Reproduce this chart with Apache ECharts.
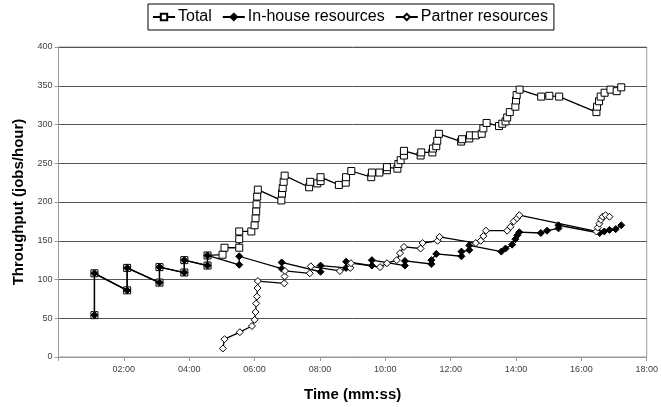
<!DOCTYPE html>
<html>
<head>
<meta charset="utf-8">
<script src="https://cdn.jsdelivr.net/npm/echarts@6/dist/echarts.min.js"></script>
<style>
  html, body { margin: 0; padding: 0; background: #fff; }
  #chart { width: 661px; height: 407px; }
</style>
</head>
<body>
<div id="chart"></div>
<script>
// time in minutes, throughput in jobs/hour
const totalTime = [1.1, 1.1, 2.1, 2.1, 3.09, 3.09, 3.85, 3.85, 4.56, 4.56, 5.02, 5.08, 5.53, 5.53, 5.53, 5.9, 6.0, 6.03, 6.05, 6.06, 6.08, 6.1,
  6.82, 6.84, 6.86, 6.89, 6.92, 7.67, 7.7, 7.92, 8.02, 8.02, 8.58, 8.79, 8.8, 8.96, 9.57, 9.59, 9.82, 10.05, 10.05, 10.37, 10.4, 10.47,
  10.57, 10.57, 11.08, 11.1, 11.44, 11.46, 11.56, 11.59, 11.64, 12.32, 12.35, 12.57, 12.59, 12.77, 12.95, 13.0, 13.1, 13.48, 13.58,
  13.68, 13.73, 13.81, 13.98, 14.0, 14.02, 14.11, 14.77, 15.02, 15.32, 16.46, 16.48, 16.54, 16.59, 16.71, 16.89, 17.08, 17.22];
const totalValue = [54, 108, 86, 115, 96, 116, 109, 125, 118, 131, 132, 141, 141, 152, 162, 162, 170, 179, 188, 197, 207, 216,
  202, 211, 218, 226, 234, 219, 226, 224, 227, 232, 222, 225, 232, 240, 232, 238, 238, 241, 245, 243, 249, 254,
  260, 266, 260, 264, 264, 269, 272, 279, 288, 278, 281, 282, 286, 286, 288, 295, 302, 298, 301,
  304, 309, 316, 323, 331, 338, 345, 336, 337, 336, 316, 323, 330, 336, 341, 345, 343, 348];

const inhouseTime = [1.1, 1.1, 2.1, 2.1, 3.09, 3.09, 3.85, 3.85, 4.56, 4.56, 5.53, 5.53, 6.83, 6.83, 8.02, 8.02, 8.8, 8.8, 9.59, 9.59,
  10.6, 10.6, 11.41, 11.41, 11.56, 12.33, 12.33, 12.57, 12.57, 13.55, 13.68, 13.88, 13.98, 14.04, 14.1, 14.76, 14.95, 15.3, 15.3,
  16.56, 16.7, 16.86, 17.05, 17.22];
const inhouseValue = [54, 108, 86, 115, 96, 116, 109, 125, 118, 131, 119, 130, 114, 122, 110, 118, 115, 123, 118, 125,
  118, 124, 120, 125, 133, 130, 136, 138, 144, 136, 140, 145, 152, 157, 161, 160, 163, 166, 170,
  160, 162, 164, 165, 170];

const partnerTime = [5.03, 5.08, 5.55, 5.92, 6.0, 6.03, 6.05, 6.07, 6.09, 6.1, 6.91, 6.92, 6.93, 7.69, 7.72, 8.61, 8.93, 8.95,
  9.84, 10.05, 10.35, 10.45, 10.57, 11.08, 11.14, 11.6, 11.66, 12.77, 12.92, 13.0, 13.08, 13.73, 13.83, 13.93, 14.03, 14.1,
  16.46, 16.5, 16.55, 16.6, 16.65, 16.74, 16.86];
const partnerValue = [11, 23, 32, 40, 48, 58, 69, 78, 89, 98, 95, 104, 111, 108, 117, 111, 115, 121,
  116, 121, 125, 134, 142, 140, 147, 150, 155, 147, 150, 156, 163, 163, 168, 175, 179, 183,
  162, 167, 172, 177, 181, 183, 181];

const timeTicks = ['', '02:00', '04:00', '06:00', '08:00', '10:00', '12:00', '14:00', '16:00', '18:00'];

const zip = (xs, ys) => xs.map((x, i) => [x, ys[i]]);

const chartContainer = document.getElementById('chart');
const myChart = echarts.init(chartContainer, null, { renderer: 'canvas' });

const font = 'Liberation Sans, Arial, sans-serif';

const option = {
  animation: false,
  textStyle: { fontFamily: font, color: '#000' },
  legend: {
    top: 4,
    left: 148,
    itemGap: 10,
    itemWidth: 22,
    itemHeight: 8,
    padding: [5, 6, 5, 4],
    borderColor: '#000',
    borderWidth: 1,
    textStyle: { fontFamily: font, fontSize: 16, color: '#000', padding: [0, 0, 0, -2] },
    data: ['Total', 'In-house resources', 'Partner resources'],
  },
  grid: { left: 58.5, right: 9, top: 47, bottom: 47.5, show: true, borderColor: '#999', borderWidth: 1 },
  xAxis: {
    type: 'value',
    min: 0,
    max: 18,
    interval: 2,
    name: 'Time (mm:ss)',
    nameLocation: 'middle',
    nameGap: 30,
    nameTextStyle: { fontFamily: font, fontSize: 15, fontWeight: 'bold', color: '#000' },
    axisLine: { show: true, lineStyle: { color: '#999' } },
    axisTick: { show: true, length: 4, lineStyle: { color: '#999' } },
    axisLabel: {
      fontSize: 9,
      color: '#404040',
      margin: 8,
      formatter: (v) => timeTicks[Math.round(v / 2)] || '',
    },
    splitLine: { show: false },
  },
  yAxis: {
    type: 'value',
    min: 0,
    max: 400,
    interval: 50,
    name: 'Throughput (jobs/hour)',
    nameLocation: 'middle',
    nameGap: 27,
    nameTextStyle: { fontFamily: font, fontSize: 15, fontWeight: 'bold', color: '#000' },
    axisLine: { show: true, lineStyle: { color: '#999' } },
    axisTick: { show: true, length: 4, lineStyle: { color: '#999' } },
    axisLabel: { fontSize: 9, color: '#404040', margin: 6 },
    splitLine: { show: true, lineStyle: { color: '#555', width: 1 } },
  },
  series: [
    {
      name: 'Total',
      type: 'line',
      data: zip(totalTime, totalValue),
      symbol: 'rect',
      symbolSize: 7,
      showAllSymbol: true,
      lineStyle: { color: '#000', width: 1.3 },
      itemStyle: { color: '#fff', borderColor: '#000', borderWidth: 1 },
      z: 2,
    },
    {
      name: 'In-house resources',
      type: 'line',
      data: zip(inhouseTime, inhouseValue),
      symbol: 'diamond',
      symbolSize: 7,
      showAllSymbol: true,
      lineStyle: { color: '#000', width: 1.3 },
      itemStyle: { color: '#000', borderColor: '#000', borderWidth: 1 },
      z: 3,
    },
    {
      name: 'Partner resources',
      type: 'line',
      data: zip(partnerTime, partnerValue),
      symbol: 'diamond',
      symbolSize: 7,
      showAllSymbol: true,
      lineStyle: { color: '#000', width: 1.3 },
      itemStyle: { color: '#fff', borderColor: '#000', borderWidth: 1 },
      z: 4,
    },
  ],
};

myChart.setOption(option);
</script>
</body>
</html>
